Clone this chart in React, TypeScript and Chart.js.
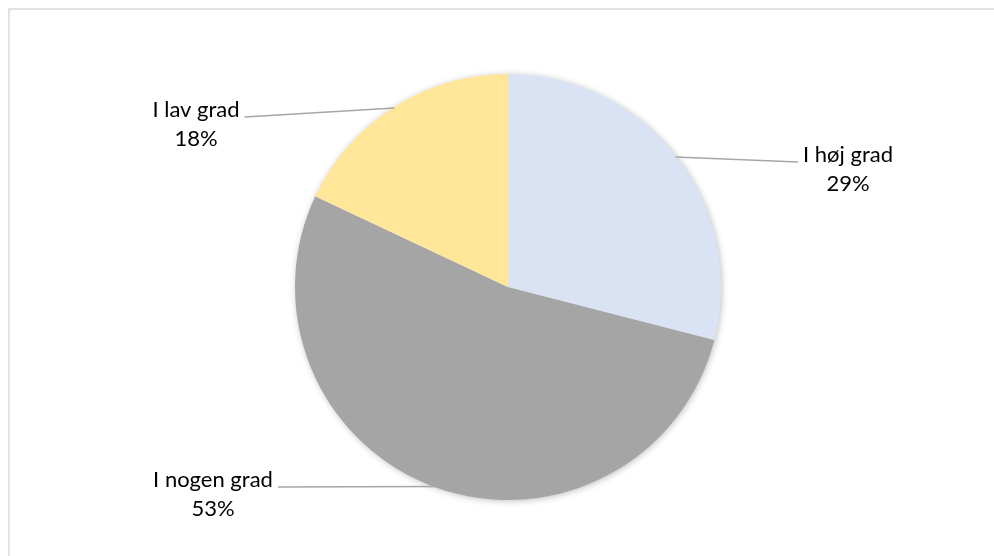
import React, { useEffect, useRef } from "react";
import { Chart, registerables } from "chart.js";

Chart.register(...registerables);

// ---- data ----
const categories = ["I høj grad", "I nogen grad", "I lav grad"];
const shares = [29, 53, 18];
const sliceColors = ["#DAE3F3", "#A5A5A5", "#FFE699"];

// ---- layout constants (label centre / first-line baseline relative to pie centre, px) ----
const labelOffsets = [
  { dx: 340, dy: -125 },
  { dx: -295, dy: 200 },
  { dx: -312, dy: -170 },
];

const W = 994;
const H = 556;
const FONT = "22px Lato";
const LINE_GAP = 29;

const decorPlugin = {
  id: "pieDecor",
  beforeDraw(chart: any) {
    const ctx = chart.ctx;
    ctx.save();
    ctx.fillStyle = "#ffffff";
    ctx.fillRect(0, 0, W, H);
    ctx.strokeStyle = "#D9D9D9";
    ctx.lineWidth = 1.5;
    ctx.strokeRect(9, 9, W + 20, H + 20);
    ctx.restore();
  },
  beforeDatasetsDraw(chart: any) {
    const meta = chart.getDatasetMeta(0);
    const arc = meta.data[0];
    if (!arc) return;
    const { x, y, outerRadius } = arc.getProps(["x", "y", "outerRadius"], true);
    const ctx = chart.ctx;
    ctx.save();
    ctx.shadowColor = "rgba(0,0,0,0.28)";
    ctx.shadowBlur = 7;
    ctx.shadowOffsetX = 1;
    ctx.shadowOffsetY = 1;
    ctx.fillStyle = "#ffffff";
    ctx.beginPath();
    ctx.arc(x, y, outerRadius - 0.5, 0, Math.PI * 2);
    ctx.fill();
    ctx.restore();
  },
  afterDatasetsDraw(chart: any) {
    const meta = chart.getDatasetMeta(0);
    const ctx = chart.ctx;
    const data = chart.data.datasets[0].data as number[];
    const total = data.reduce((a, b) => a + b, 0);
    ctx.save();
    ctx.font = FONT;
    meta.data.forEach((el: any, i: number) => {
      const { x, y, startAngle, endAngle, outerRadius } = el.getProps(
        ["x", "y", "startAngle", "endAngle", "outerRadius"],
        true
      );
      const mid = (startAngle + endAngle) / 2;
      const sx = x + Math.cos(mid) * (outerRadius - 1);
      const sy = y + Math.sin(mid) * (outerRadius - 1);
      const off = labelOffsets[i];
      const cx = x + off.dx;
      const by = y + off.dy;
      const line1 = chart.data.labels[i] as string;
      const line2 = Math.round((data[i] / total) * 100) + "%";
      const w1 = ctx.measureText(line1).width;
      const ex = off.dx > 0 ? cx - w1 / 2 - 5 : cx + w1 / 2 + 5;
      ctx.strokeStyle = "#A6A6A6";
      ctx.lineWidth = 1.5;
      ctx.beginPath();
      ctx.moveTo(sx, sy);
      ctx.lineTo(ex, by);
      ctx.stroke();
      ctx.fillStyle = "#000000";
      ctx.textAlign = "center";
      ctx.textBaseline = "alphabetic";
      ctx.fillText(line1, cx, by);
      ctx.fillText(line2, cx, by + LINE_GAP);
    });
    ctx.restore();
  },
};

export default function App() {
  const ref = useRef<HTMLCanvasElement | null>(null);
  useEffect(() => {
    if (!ref.current) return;
    const chart = new Chart(ref.current, {
      type: "pie",
      data: {
        labels: categories,
        datasets: [
          {
            data: shares,
            backgroundColor: sliceColors,
            borderWidth: 0,
          },
        ],
      },
      options: {
        responsive: false,
        animation: false,
        devicePixelRatio: 1,
        layout: { padding: { left: 295, right: 273, top: 74, bottom: 56 } },
        plugins: {
          legend: { display: false },
          tooltip: { enabled: false },
        },
      },
      plugins: [decorPlugin],
    });
    return () => chart.destroy();
  }, []);
  return (
    <div style={{ position: "absolute", left: 0, top: 0, width: W, height: H, background: "#fff" }}>
      <canvas ref={ref} width={W} height={H} style={{ display: "block" }} />
    </div>
  );
}
